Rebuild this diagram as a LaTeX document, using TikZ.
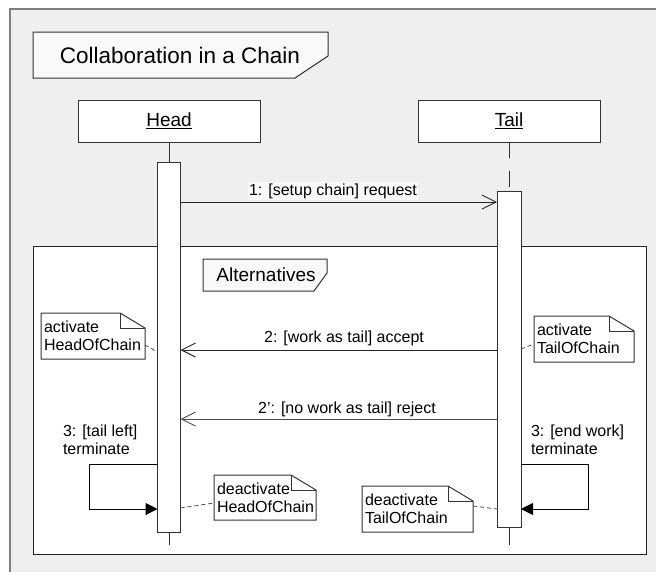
\documentclass[tikz,border=0pt]{standalone}
\usepackage{fontspec}
\setmainfont{Liberation Sans}
\usetikzlibrary{calc,arrows.meta}

\definecolor{framegray}{HTML}{7F7F7F}
\definecolor{panel}{HTML}{EFEFEF}
\definecolor{ink}{HTML}{333333}
\definecolor{tagfill}{HTML}{F9F9F9}

% Dog-eared UML note: name, x1, y1, x2, y2, text
\newcommand\umlnote[6]{%
  \node[minimum width={#4-#2}, minimum height={#5-#3}, anchor=north west] (#1) at (#2,#3) {};
  \draw[notebody] (#2,#3) -- (#4-25,#3) -- (#4,#3+15) -- (#4,#5) -- (#2,#5) -- cycle;
  \draw[notebody, fill=none] (#4-25,#3) -- (#4-25,#3+15) -- (#4,#3+15);
  \node[txt, anchor=west] (#1-t) at ($(#1.west)+(3,0)$) {#6};
}

\begin{document}
\begin{tikzpicture}[x=1pt, y=-1pt,
  every node/.style={inner sep=0pt, outer sep=0pt},
  objbox/.style={draw=ink, fill=white, line width=1pt, minimum width=182, minimum height=42,
                 font=\fontsize{19}{22}\selectfont},
  actbar/.style={draw=ink, fill=white, line width=1pt, minimum width=23, anchor=north},
  lifeline/.style={draw=ink, line width=1pt},
  msg/.style={draw=black!85, line width=0.9pt, -{Straight Barb[length=14pt, width=14pt, line width=0.9pt]}},
  selfmsg/.style={draw=black, line width=1pt, -{Triangle[length=12pt, width=12pt]}},
  txt/.style={font=\fontsize{16}{18}\selectfont, align=left},
  tag/.style={draw=ink, fill=tagfill, line width=1pt},
  notebody/.style={draw=ink, fill=white, line width=1pt},
  noteline/.style={draw=black!70, line width=0.8pt, dash pattern=on 4pt off 3pt}
]
\useasboundingbox (0,0) rectangle (656,571);
\fill[white] (0,0) rectangle (656,571);
\clip (0,0) rectangle (656,571);

% outer diagram frame
\draw[framegray, fill=panel, line width=1.5pt] (10,9) rectangle (680,600);

% diagram title tag
\draw[tag] (33,32) -- (328,32) -- (328,56) -- (295,78) -- (33,78) -- cycle;
\node[font=\fontsize{22.5}{27}\selectfont] (title) at (180,55) {Collaboration in a Chain};

% alternatives fragment
\draw[draw=black!85, fill=white, line width=1pt] (33,246) rectangle (646,554);
\draw[tag] (203,259) -- (327,259) -- (327,273) -- (314,291) -- (203,291) -- cycle;
\node[font=\fontsize{19}{22}\selectfont] (alt) at (266,275) {Alternatives};

% objects
\node[objbox] (head) at (169,121) {\underline{Head}};
\node[objbox] (tail) at (509,121) {\underline{Tail}};

% activation bars
\node[actbar, minimum height=370] (hbar) at (169,162) {};
\node[actbar, minimum height=336, minimum width=24] (tbar) at (509,191) {};

\coordinate (hend) at (169,545);
\coordinate (tend) at (509,545);

% lifelines
\draw[lifeline] (head.south) -- (hbar.north);
\draw[lifeline] (hbar.south) -- (hend);
\draw[lifeline, dash pattern=on 16pt off 13pt] (tail.south) -- (tbar.north);
\draw[lifeline] (tbar.south) -- (tend);

% message 1
\draw[msg] (hbar.east |- 0,202) -- (tbar.west |- 0,202);
\node[txt, fill=tagfill, inner xsep=1pt, inner ysep=1.5pt] (m1) at (333,191) {1: [setup chain] request};

% message 2
\draw[msg] (tbar.west |- 0,350) -- (hbar.east |- 0,350);
\node[txt] (m2) at (344,338) {2: [work as tail] accept};

% message 2'
\draw[msg, draw=black!70] (tbar.west |- 0,419) -- (hbar.east |- 0,419);
\node[txt] (m2b) at (347,409) {2': [no work as tail] reject};

% self messages
\draw[selfmsg] (hbar.west |- 0,464) -- (89,464) -- (89,509) -- (hbar.west |- 0,509);
\node[txt, anchor=north west] (s1) at (63,425) {3: [tail left]\\terminate};
\draw[selfmsg] (tbar.east |- 0,464) -- (588,464) -- (588,509) -- (tbar.east |- 0,509);
\node[txt, anchor=north west] (s2) at (531,425) {3: [end work]\\terminate};

% notes
\umlnote{nha}{41}{313}{145}{359}{activate\\HeadOfChain}
\umlnote{nta}{534}{316}{634}{362}{activate\\TailOfChain}
\umlnote{nhd}{214}{475}{316}{520}{deactivate\\HeadOfChain}
\umlnote{ntd}{362}{486}{473}{532}{deactivate\\TailOfChain}

% note anchors
\draw[noteline] (nha.east |- 0,345) -- (hbar.west |- 0,352);
\draw[noteline] (tbar.east |- 0,349) -- (nta.west |- 0,344);
\draw[noteline] (hbar.east |- 0,508) -- (nhd.west |- 0,503);
\draw[noteline] (ntd.east |- 0,506) -- (tbar.west |- 0,509);
\end{tikzpicture}
\end{document}
